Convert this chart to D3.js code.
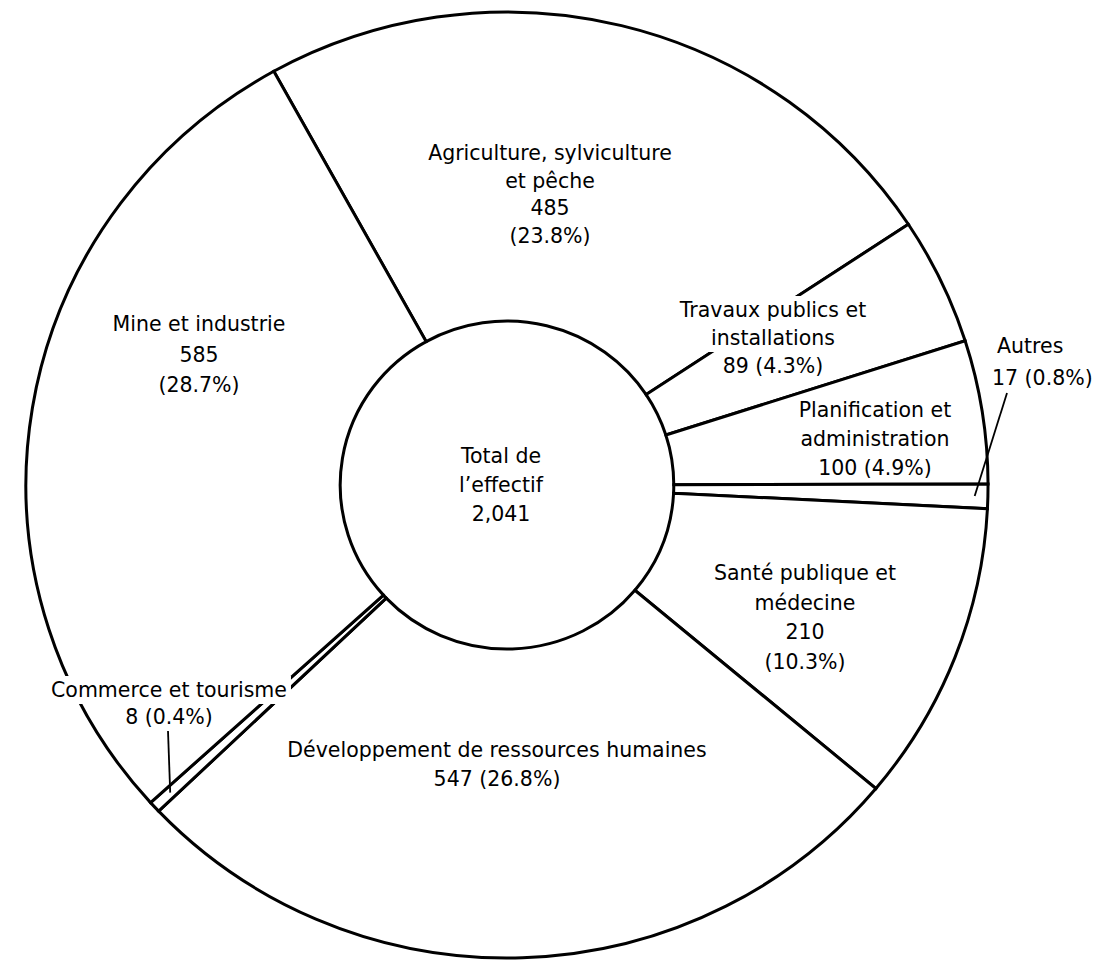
<!DOCTYPE html>
<html>
<head>
<meta charset="utf-8">
<script src="https://cdn.jsdelivr.net/npm/d3@7"></script>
<style>
  body { margin: 0; background: #fff; }
  svg text { font-family: "DejaVu Sans", sans-serif; font-size: 20.5px; fill: #000; }
</style>
</head>
<body>
<svg id="chart" width="1110" height="961"></svg>
<script>
// clockwise from the top, starting with agriculture
const categories = [
  'Agriculture, sylviculture et pêche',
  'Travaux publics et installations',
  'Planification et administration',
  'Autres',
  'Santé publique et médecine',
  'Développement de ressources humaines',
  'Commerce et tourisme',
  'Mine et industrie'
];
const effectifs = [485, 89, 100, 17, 210, 547, 8, 585];
const pourcentages = ['23.8%', '4.3%', '4.9%', '0.8%', '10.3%', '26.8%', '0.4%', '28.7%'];
const totalLines = ['Total de', 'l’effectif'];

const width = 1110;
const height = 961;
const center = { x: 507, y: 485 };
const stretchX = 1.017; // the scan is a little wider than tall
const outerRadius = 473;
const innerRadius = 164;
const startAngle = -29 * Math.PI / 180;

// where each label sits, same order as categories
const labelLayout = [
  { lines: ['Agriculture, sylviculture', 'et pêche', '{v}', '({p})'], x: 550, y: 160, dy: 27.7 },
  { lines: ['Travaux publics et', 'installations', '{v} ({p})'], x: 773, y: 317, dy: 28, knockout: true },
  { lines: ['Planification et', 'administration', '{v} ({p})'], x: 875, y: 417, dy: 29 },
  { lines: ['Autres', '{v} ({p})'], x: 997, y: 353, dy: 32, anchor: 'start', shift: [0, -5],
    leader: { from: [1007, 393], r: 460 } },
  { lines: ['Santé publique et', 'médecine', '{v}', '({p})'], x: 805, y: 580, dy: 29.5 },
  { lines: ['Développement de ressources humaines', '{v} ({p})'], x: 497, y: 757, dy: 28.5 },
  { lines: ['Commerce et tourisme', '{v} ({p})'], x: 169, y: 697, dy: 26.5, knockout: true,
    leader: { from: [168, 731], r: 452 } },
  { lines: ['Mine et industrie', '{v}', '({p})'], x: 199, y: 331, dy: 30.5 }
];

const fmt = d3.format(',');
const svg = d3.select('#chart');

svg.append('rect').attr('width', width).attr('height', height).attr('fill', '#fff');

const pie = d3.pie()
  .sort(null)
  .startAngle(startAngle)
  .endAngle(startAngle + 2 * Math.PI);
const arc = d3.arc().innerRadius(innerRadius).outerRadius(outerRadius);
const slices = pie(effectifs);

const ring = svg.append('g')
  .attr('transform', `translate(${center.x},${center.y}) scale(${stretchX},1)`);

ring.selectAll('path.slice')
  .data(slices)
  .enter()
  .append('path')
  .attr('class', 'slice')
  .attr('d', arc)
  .attr('fill', '#fff')
  .attr('stroke', '#000')
  .attr('stroke-width', 3)
  .attr('stroke-linejoin', 'miter')
  .attr('vector-effect', 'non-scaling-stroke');

function polar(angle, r) {
  return [center.x + stretchX * r * Math.sin(angle), center.y - r * Math.cos(angle)];
}

const labelsG = svg.append('g');

labelLayout.forEach((lay, i) => {
  const g = labelsG.append('g');
  const texts = lay.lines.map((t, k) => {
    const shift = lay.shift ? lay.shift[k] : 0;
    return g.append('text')
      .attr('x', lay.x + shift)
      .attr('y', lay.y + k * lay.dy)
      .attr('text-anchor', lay.anchor || 'middle')
      .text(t.replace('{v}', fmt(effectifs[i])).replace('{p}', pourcentages[i]));
  });
  if (lay.knockout) {
    texts.forEach(t => {
      const b = t.node().getBBox();
      g.insert('rect', 'text')
        .attr('x', b.x - 4)
        .attr('y', b.y - 2)
        .attr('width', b.width + 8)
        .attr('height', b.height + 4)
        .attr('fill', '#fff');
    });
  }
  if (lay.leader) {
    const s = slices[i];
    const end = polar((s.startAngle + s.endAngle) / 2, lay.leader.r);
    svg.append('line')
      .attr('x1', lay.leader.from[0])
      .attr('y1', lay.leader.from[1])
      .attr('x2', end[0])
      .attr('y2', end[1])
      .attr('stroke', '#000')
      .attr('stroke-width', 1.8);
  }
});

// centre label
const totalG = svg.append('g');
totalLines.concat([fmt(d3.sum(effectifs))]).forEach((t, k) => {
  totalG.append('text')
    .attr('x', 501)
    .attr('y', 463 + k * 29)
    .attr('text-anchor', 'middle')
    .text(t);
});
</script>
</body>
</html>
